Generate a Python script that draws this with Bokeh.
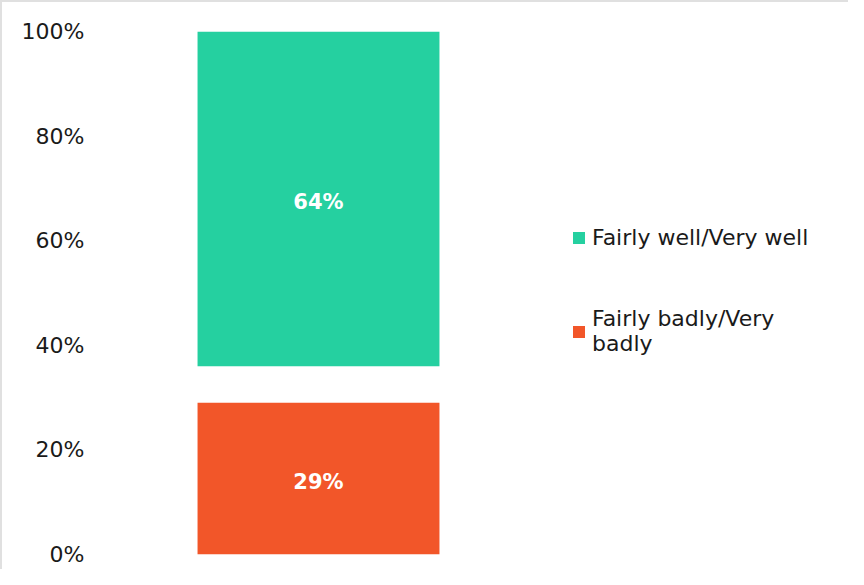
from bokeh.plotting import figure
from bokeh.models import (ColumnDataSource, Range1d, FixedTicker, NumeralTickFormatter,
                          Legend, LegendItem)
from bokeh.core.properties import value
from bokeh.embed import file_html
from bokeh.resources import INLINE

# ---- data ----
categories = ["All"]
series_names = ["Fairly badly/Very badly", "Don't know", "Fairly well/Very well"]
bad_values = [0.29]
neither_values = [0.07]
good_values = [0.64]
y_ticks = [0.0, 0.2, 0.4, 0.6, 0.8, 1.0]

FONT = "DejaVu Sans"
GREEN = "#25d0a0"
ORANGE = "#f25629"

W, H = 848, 569
p = figure(width=W, height=H, output_backend="svg", toolbar_location=None,
           x_range=Range1d(0, 1), y_range=Range1d(0, 1),
           min_border_left=92, min_border_right=0, min_border_top=29, min_border_bottom=17)
p.styles = {"border-top": "2px solid #e0e0e0", "border-left": "2px solid #e0e0e0"}

xpos = [0.2963]
src = ColumnDataSource(dict(x=xpos, bad=bad_values, neither=neither_values, good=good_values))
renderers = p.vbar_stack(["bad", "neither", "good"], x="x", width=0.320, source=src,
                         color=[ORANGE, "#ffffff", GREEN], line_color=None)
renderers[1].glyph.fill_alpha = 0

# data labels in the middle of each visible segment
bottoms_bad = [0.0]
bottoms_good = [b + n for b, n in zip(bad_values, neither_values)]
lab_y = [bottoms_bad[0] + bad_values[0] / 2, bottoms_good[0] + good_values[0] / 2]
lab_t = [f"{round(bad_values[0]*100)}%", f"{round(good_values[0]*100)}%"]
p.text(x=[xpos[0]] * 2, y=lab_y, text=lab_t, text_align="center", text_baseline="middle",
       text_color="white", text_font=value(FONT), text_font_style="bold",
       text_font_size="21px", y_offset=3)

legend = Legend(items=[LegendItem(label="Fairly well/Very well", renderers=[renderers[2]]),
                       LegendItem(label="Fairly badly/Very\nbadly", renderers=[renderers[0]])],
                location=(477, 198), orientation="vertical",
                glyph_width=15, glyph_height=15, label_standoff=6,
                label_text_font=FONT, label_text_font_size="22px", label_text_color="#1a1a1a",
                spacing=56, padding=0, margin=0, border_line_alpha=0,
                background_fill_alpha=0)
p.add_layout(legend, "center")

ax = p.yaxis[0]
ax.ticker = FixedTicker(ticks=y_ticks)
ax.formatter = NumeralTickFormatter(format="0%")
ax.axis_line_color = None
ax.major_tick_line_color = None
ax.minor_tick_line_color = None
ax.major_label_standoff = 4
ax.major_label_text_font = FONT
ax.major_label_text_font_size = "22px"
ax.major_label_text_color = "#1a1a1a"
p.xaxis.visible = False
p.xgrid.visible = False
p.ygrid.visible = False
p.outline_line_color = None

open("out.html", "w").write(file_html(p, INLINE))
